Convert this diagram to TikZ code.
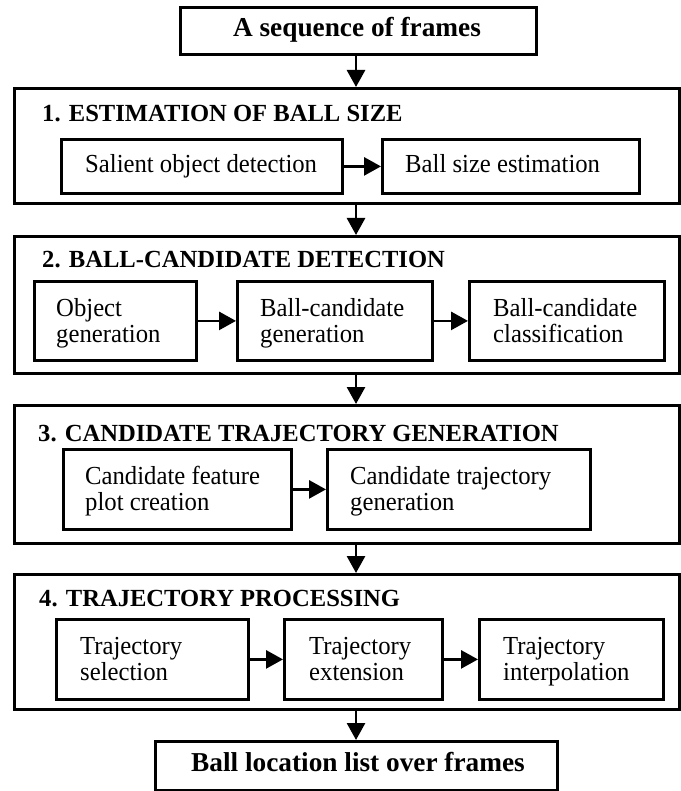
\documentclass[tikz,border=0pt]{standalone}
\usepackage{fontspec}
\setmainfont{Liberation Serif}
\newfontfamily\narrowserif[FakeStretch=0.95]{Liberation Serif}
\usetikzlibrary{arrows.meta}

\tikzset{
  sect/.style={draw, line width=2.8pt, anchor=north west, inner sep=0pt},
  inbox/.style={draw, line width=2.8pt, anchor=north west, inner sep=0pt},
  intext/.style={anchor=south west, inner sep=0pt, text depth=0pt, align=left,
                 font=\narrowserif\fontsize{26}{26.5}\selectfont},
  endbox/.style={draw, line width=2.8pt, anchor=north west, inner sep=0pt},
  endtext/.style={anchor=base, inner sep=0pt, font=\fontsize{27.3}{30}\selectfont\bfseries},
  title/.style={anchor=base west, inner sep=0pt, font=\fontsize{24.6}{28}\selectfont\bfseries},
  arr/.style={line width=2.8pt, -{Triangle[length=17pt, width=18pt]}},
}

\begin{document}
\begin{tikzpicture}[x=1pt, y=-1pt]
\useasboundingbox (0,0) rectangle (680,791);

% input and output
\node[endbox, minimum width=356pt, minimum height=47pt] (top) at (179,6) {};
\node[endtext] (topt) at (357,37) {A sequence of frames};
\node[endbox, minimum width=402pt, minimum height=49pt] (out) at (154,740) {};
\node[endtext] (outt) at (358,771) {Ball location list over frames};

% stage frames
\node[sect, minimum width=665pt, minimum height=115pt] (s1) at (13,87) {};
\node[sect, minimum width=665pt, minimum height=137pt] (s2) at (13,235) {};
\node[sect, minimum width=665pt, minimum height=138pt] (s3) at (13,404) {};
\node[sect, minimum width=665pt, minimum height=135pt] (s4) at (13,573) {};

\node[title] (t1) at (42,122) {1. ESTIMATION OF BALL SIZE};
\node[title] (t2) at (42,267) {2. BALL-CANDIDATE DETECTION};
\node[title] (t3) at (38,441) {3. CANDIDATE TRAJECTORY GENERATION};
\node[title] (t4) at (39,606) {4. TRAJECTORY PROCESSING};

% stage 1
\node[inbox, minimum width=281pt, minimum height=54pt] (a1) at (60,138) {};
\node[intext] (a1t) at (85,173) {Salient object detection};
\node[inbox, minimum width=257pt, minimum height=54pt] (a2) at (381,138) {};
\node[intext] (a2t) at (405,173) {Ball size estimation};

% stage 2
\node[inbox, minimum width=162pt, minimum height=79pt] (b1) at (33,280) {};
\node[intext] (b1t) at (56,343) {Object\\generation};
\node[inbox, minimum width=195pt, minimum height=79pt] (b2) at (236,280) {};
\node[intext] (b2t) at (260,343) {Ball-candidate\\generation};
\node[inbox, minimum width=195pt, minimum height=79pt] (b3) at (468,280) {};
\node[intext] (b3t) at (493,343) {Ball-candidate\\classification};

% stage 3
\node[inbox, minimum width=228pt, minimum height=80pt] (c1) at (62,448) {};
\node[intext] (c1t) at (85,511) {Candidate feature\\plot creation};
\node[inbox, minimum width=263pt, minimum height=80pt] (c2) at (326,448) {};
\node[intext] (c2t) at (350,511) {Candidate trajectory\\generation};

% stage 4
\node[inbox, minimum width=192pt, minimum height=80pt] (d1) at (55,618) {};
\node[intext] (d1t) at (80,681) {Trajectory\\selection};
\node[inbox, minimum width=158pt, minimum height=80pt] (d2) at (283,618) {};
\node[intext] (d2t) at (309,681) {Trajectory\\extension};
\node[inbox, minimum width=184pt, minimum height=80pt] (d3) at (478,618) {};
\node[intext] (d3t) at (503,681) {Trajectory\\interpolation};

% flow between stages
\draw[arr] (top.south -| 356,0) -- (s1.north -| 356,0);
\draw[arr] (s1.south -| 356,0) -- (s2.north -| 356,0);
\draw[arr] (s2.south -| 356,0) -- (s3.north -| 356,0);
\draw[arr] (s3.south -| 356,0) -- (s4.north -| 356,0);
\draw[arr] (s4.south -| 356,0) -- (out.north -| 356,0);

% flow within stages
\draw[arr] (a1) -- (a2);
\draw[arr] (b1) -- (b2);
\draw[arr] (b2) -- (b3);
\draw[arr] (c1) -- (c2);
\draw[arr] (d1) -- (d2);
\draw[arr] (d2) -- (d3);
\end{tikzpicture}
\end{document}
